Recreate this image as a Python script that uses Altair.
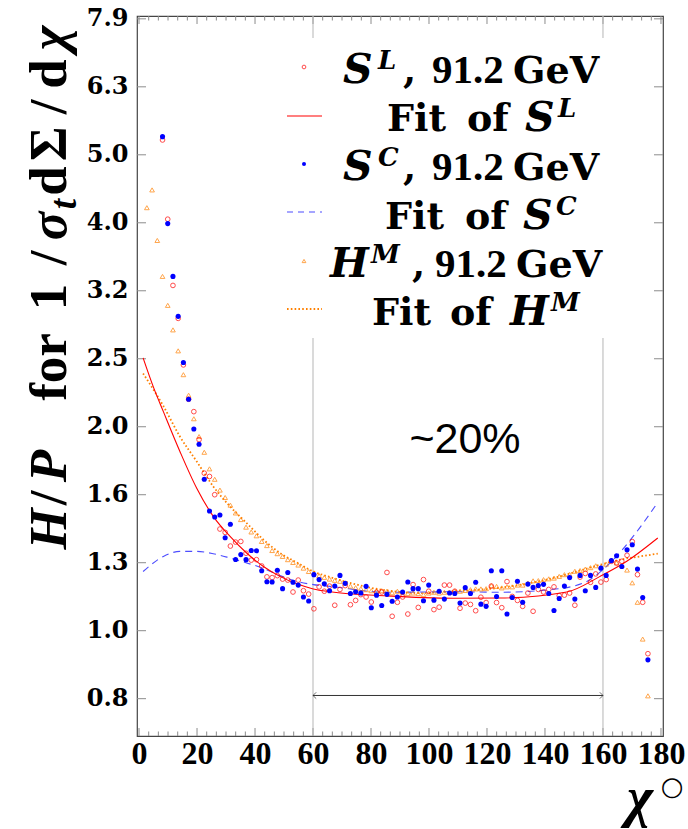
import altair as alt
import pandas as pd

# ---------------- data ----------------
chi_S = [8.1, 9.9, 11.7, 13.5, 15.3, 17.1, 18.9, 20.7, 22.5, 24.3, 26.1, 27.9, 29.7, 31.5, 33.3, 35.1,
         36.9, 38.7, 40.5, 42.3, 44.1, 45.9, 47.7, 49.5, 51.3, 53.1, 54.9, 56.7, 58.5, 60.3, 62.1, 63.9,
         65.7, 67.5, 69.3, 71.1, 72.9, 74.7, 76.5, 78.3, 80.1, 81.9, 83.7, 85.5, 87.3, 89.1, 90.9, 92.7,
         94.5, 96.3, 98.1, 99.9, 101.7, 103.5, 105.3, 107.1, 108.9, 110.7, 112.5, 114.3, 116.1, 117.9,
         119.7, 121.5, 123.3, 125.1, 126.9, 128.7, 130.5, 132.3, 134.1, 135.9, 137.7, 139.5, 141.3,
         143.1, 144.9, 146.7, 148.5, 150.3, 152.1, 153.9, 155.7, 157.5, 159.3, 161.1, 162.9, 164.7,
         166.5, 168.3, 170.1, 171.9, 173.7, 175.5]
chi_H = [2.7, 4.5, 6.3] + chi_S

SL = [5.27, 4.03, 3.22, 2.88, 2.46, 2.19, 2.10, 1.91, 1.705, 1.686, 1.585, 1.411, 1.395, 1.332, 1.35, 1.353,
      1.30, 1.27, 1.272, 1.245, 1.20, 1.197, 1.205, 1.191, 1.187, 1.14, 1.187, 1.145, 1.132, 1.077, 1.16, 1.143,
      1.163, 1.090, 1.15, 1.165, 1.092, 1.108, 1.13, 1.121, 1.102, 1.139, 1.14, 1.218, 1.050, 1.101, 1.121, 1.058,
      1.169, 1.082, 1.189, 1.143, 1.074, 1.083, 1.167, 1.167, 1.143, 1.079, 1.098, 1.093, 1.070, 1.12,
      1.100, 1.163, 1.100, 1.081, 1.181, 1.123, 1.108, 1.086, 1.136, 1.068, 1.15, 1.14, 1.15,
      1.16, 1.126, 1.128, 1.136, 1.09, 1.199, 1.214, 1.178, 1.212, 1.179, 1.189, 1.265, 1.258,
      1.265, 1.291, 1.352, 1.209, 1.101, 0.925]
SC = [5.33, 3.97, 3.32, 2.90, 2.48, 2.19, 1.98, 1.88, 1.67, 1.50, 1.47, 1.48, 1.37, 1.434, 1.273, 1.294,
      1.272, 1.312, 1.311, 1.225, 1.18, 1.179, 1.227, 1.153, 1.218, 1.178, 1.167, 1.121, 1.106, 1.209, 1.189, 1.172,
      1.145, 1.163, 1.206, 1.174, 1.134, 1.141, 1.136, 1.162, 1.081, 1.128, 1.089, 1.131, 1.105, 1.121, 1.140, 1.179,
      1.153, 1.153, 1.107, 1.167, 1.109, 1.143, 1.113, 1.136, 1.134, 1.098, 1.157, 1.134, 1.178, 1.094,
      1.086, 1.225, 1.123, 1.225, 1.058, 1.119, 1.182, 1.101, 1.171, 1.158, 1.165, 1.170, 1.134,
      1.071, 1.115, 1.163, 1.197, 1.113, 1.206, 1.145, 1.206, 1.158, 1.236, 1.206, 1.268, 1.289,
      1.243, 1.315, 1.338, 1.232, 1.119, 0.906]
HM = [4.19, 4.45, 3.75, 3.32, 3.01, 2.77, 2.58, 2.38, 2.22, 2.05, 1.93, 1.83, 1.73, 1.67, 1.61, 1.57, 1.53,
      1.49, 1.457, 1.42, 1.397, 1.379, 1.353, 1.334, 1.312, 1.298, 1.286, 1.272, 1.26, 1.249, 1.236, 1.222,
      1.216, 1.205, 1.198, 1.191, 1.186, 1.182, 1.175, 1.163, 1.157, 1.153, 1.149, 1.145, 1.144, 1.145, 1.143,
      1.137, 1.143, 1.139, 1.134, 1.136, 1.134, 1.130, 1.136, 1.139, 1.136, 1.139, 1.139, 1.144, 1.143,
      1.146, 1.149, 1.152, 1.152, 1.153, 1.165, 1.162, 1.156, 1.16, 1.16, 1.167, 1.167, 1.175, 1.184,
      1.185, 1.189, 1.192, 1.195, 1.202, 1.209, 1.21, 1.223, 1.226, 1.232, 1.238, 1.246, 1.24, 1.253,
      1.269, 1.258, 1.247, 1.228, 1.176, 1.101, 0.972, 0.802]

fitSL_x = [1.4, 5.0, 8.4, 14.1, 19.9, 25.6, 31.4, 37.1, 42.9, 48.6, 54.4, 60.1, 65.9, 85.4, 108.4, 124.5,
           147.5, 159.0, 168.2, 178.9]
fitSL_y = [2.52, 2.28, 2.10, 1.835, 1.62, 1.473, 1.376, 1.301, 1.243, 1.202, 1.172, 1.152, 1.141, 1.125,
           1.116, 1.117, 1.14, 1.202, 1.265, 1.369]
fitSC_x = [1.4, 8.4, 14.1, 19.9, 25.6, 31.4, 37.1, 42.9, 48.6, 54.4, 60.1, 65.9, 85.4, 108.4, 124.5, 141.7,
           153.2, 162.4, 170.4, 178.7]
fitSC_y = [1.222, 1.286, 1.308, 1.308, 1.298, 1.279, 1.258, 1.235, 1.205, 1.182, 1.169, 1.162, 1.139, 1.141,
           1.139, 1.149, 1.175, 1.257, 1.376, 1.54]
fitHM_x = [1.4, 8.4, 14.1, 19.9, 25.6, 31.4, 37.1, 42.9, 48.6, 54.4, 60.1, 65.9, 85.4, 97.0, 108.4, 125.6,
           141.7, 159.0, 165.9, 172.8, 178.9]
fitHM_y = [2.39, 2.14, 1.93, 1.774, 1.63, 1.523, 1.44, 1.361, 1.301, 1.26, 1.222, 1.199, 1.146, 1.136, 1.143,
           1.158, 1.192, 1.25, 1.272, 1.286, 1.298]

x_ticks = [0, 20, 40, 60, 80, 100, 120, 140, 160, 180]
y_ticks = [0.7943, 1.0, 1.2589, 1.5849, 1.9953, 2.5119, 3.1623, 3.9811, 5.0119, 6.3096, 7.9433]
band_edges = [60, 160]
arrow_y = 0.803

# ---------------- layout ----------------
XMIN, XMAX = -0.7, 180.7
YMIN, YMAX = 0.70, 8.02
W, H = 526, 720
PADL, PADT, PADR, PADB = 137, 16, 25, 93

RED, BLUE, ORANGE = "#ff0000", "#0000ff", "#ff8000"

xs = alt.Scale(domain=[XMIN, XMAX], nice=False, zero=False)
ys = alt.Scale(type="log", domain=[YMIN, YMAX], nice=False)
X = lambda f: alt.X(f, type="quantitative", scale=xs)
Y = lambda f: alt.Y(f, type="quantitative", scale=ys)
X2 = lambda f: alt.X2(f)
Y2 = lambda f: alt.Y2(f)

dummy = pd.DataFrame({"a": [0]})

df_SL = pd.DataFrame({"chi": chi_S, "v": SL})
df_SC = pd.DataFrame({"chi": chi_S, "v": SC})
df_HM = pd.DataFrame({"chi": chi_H, "v": HM})

layers = []

# axis carrier (labels only) - first layer so its axis definitions are used
axis_layer = alt.Chart(pd.DataFrame({"x": [XMIN], "y": [1.0]})).mark_point(opacity=0).encode(
    x=alt.X("x:Q", scale=xs, axis=alt.Axis(values=x_ticks, title=None, ticks=False, tickSize=0, domain=False,
                                            grid=False, labelFont="Liberation Serif", labelFontWeight="bold",
                                            labelFontSize=32, labelPadding=2, labelColor="black",
                                            labelFlush=False, labelOverlap=False)),
    y=alt.Y("y:Q", scale=ys, axis=alt.Axis(values=y_ticks, format=".1f", title=None, ticks=False, tickSize=0,
                                            domain=False, grid=False, labelFont="DejaVu Serif",
                                            labelFontWeight="bold", labelFontSize=24, labelPadding=9,
                                            labelColor="black", labelFlush=False, labelOverlap=False)))
layers.append(axis_layer)

# inward ticks (drawn through the scales)
tick_units_x = 9 / (W / (XMAX - XMIN))
tk = []
for t in y_ticks:
    tk.append({"x": XMIN, "x2": XMIN + tick_units_x, "y": t, "y2": t})
    tk.append({"x": XMAX - tick_units_x, "x2": XMAX, "y": t, "y2": t})
fac_major = 10 ** (8 / (H / (0.9042 + 0.1549)))
fac_minor = 10 ** (4.5 / (H / (0.9042 + 0.1549)))
for t in x_ticks:
    tk.append({"x": t, "x2": t, "y": YMIN, "y2": YMIN * fac_major})
    tk.append({"x": t, "x2": t, "y": YMAX / fac_major, "y2": YMAX})
for i in range(55):
    t = i * 20 / 6
    if i % 6 != 0:
        tk.append({"x": t, "x2": t, "y": YMIN, "y2": YMIN * fac_minor})
        tk.append({"x": t, "x2": t, "y": YMAX / fac_minor, "y2": YMAX})
layers.append(alt.Chart(pd.DataFrame(tk)).mark_rule(color="#8c8c8c", strokeWidth=1).encode(
    x=X("x"), x2=X2("x2"), y=Y("y"), y2=Y2("y2")))

# gray band lines
layers.append(alt.Chart(pd.DataFrame({"x": band_edges, "y": [YMIN] * 2, "y2": [YMAX] * 2})).mark_rule(
    color="#b5b5b5", strokeWidth=1).encode(x=X("x"), y=Y("y"), y2=Y2("y2")))

# fits
for fx, fy, col, dash, sw in [(fitHM_x, fitHM_y, ORANGE, [1.6, 2.2], 1.8),
                              (fitSC_x, fitSC_y, "#4d4dff", [7, 5], 1.1),
                              (fitSL_x, fitSL_y, RED, None, 1.1)]:
    kw = dict(color=col, strokeWidth=sw, interpolate="monotone")
    if dash:
        kw["strokeDash"] = dash
    layers.append(alt.Chart(pd.DataFrame({"x": fx, "y": fy})).mark_line(**kw).encode(x=X("x"), y=Y("y")))

# data points
layers.append(alt.Chart(df_HM).mark_point(shape="triangle-up", filled=False, color=ORANGE, size=22,
                                          strokeWidth=1).encode(x=X("chi"), y=Y("v")))
layers.append(alt.Chart(df_SL).mark_point(shape="circle", filled=False, color=RED, size=22,
                                          strokeWidth=1).encode(x=X("chi"), y=Y("v")))
layers.append(alt.Chart(df_SC).mark_point(shape="circle", filled=True, color=BLUE, size=26,
                                          opacity=1, strokeWidth=0).encode(x=X("chi"), y=Y("v")))

# arrow
layers.append(alt.Chart(pd.DataFrame({"x": [band_edges[0]], "x2": [band_edges[1]], "y": [arrow_y]})).mark_rule(
    color="#333333", strokeWidth=1).encode(x=X("x"), x2=X2("x2"), y=Y("y")))
layers.append(alt.Chart(pd.DataFrame({"x": [band_edges[0]], "y": [arrow_y]})).mark_point(
    shape="M1,-1L0,0L1,1", filled=False, color="#333333", size=40, strokeWidth=1).encode(x=X("x"), y=Y("y")))
layers.append(alt.Chart(pd.DataFrame({"x": [band_edges[1]], "y": [arrow_y]})).mark_point(
    shape="M-1,-1L0,0L-1,1", filled=False, color="#333333", size=40, strokeWidth=1).encode(x=X("x"), y=Y("y")))


def px(v):
    return alt.value(v - PADL)


def py(v):
    return alt.value(v - PADT)


# legend box
layers.append(alt.Chart(dummy).mark_rect(color="white", opacity=1).encode(
    x=px(288), x2=px(652), y=py(38), y2=py(338)))

# legend symbols
layers.append(alt.Chart(dummy).mark_point(shape="circle", filled=False, color=RED, size=14, strokeWidth=1)
              .encode(x=px(304), y=py(67)))
layers.append(alt.Chart(dummy).mark_rule(color=RED, strokeWidth=1.1).encode(x=px(287), x2=px(322), y=py(116)))
layers.append(alt.Chart(dummy).mark_point(shape="circle", filled=True, color=BLUE, size=16, opacity=1,
                                          strokeWidth=0).encode(x=px(304), y=py(164)))
layers.append(alt.Chart(dummy).mark_rule(color="#4d4dff", strokeWidth=1.1, strokeDash=[6, 5]).encode(
    x=px(287), x2=px(322), y=py(212)))
layers.append(alt.Chart(dummy).mark_point(shape="triangle-up", filled=False, color=ORANGE, size=14,
                                          strokeWidth=1).encode(x=px(304), y=py(261)))
layers.append(alt.Chart(dummy).mark_rule(color=ORANGE, strokeWidth=1.8, strokeDash=[1.6, 2.2]).encode(
    x=px(287), x2=px(322), y=py(309)))


def txt(s, x, y, size, font="DejaVu Serif", weight="bold", style="normal", align="left",
        baseline="alphabetic", angle=0, color="black"):
    return alt.Chart(dummy).mark_text(text=s, font=font, fontSize=size, fontWeight=weight, fontStyle=style,
                                      align=align, baseline=baseline, angle=angle, color=color).encode(
        x=px(x), y=py(y))


LS = "Liberation Serif"
DS = "DejaVu Serif"
# legend texts
rows = [
    (83, [("S", 343, "italic"), ("sup", "L", 378), (",", 403, "normal"), ("91.2", 432, "num"), ("GeV", 513, "normal")]),
    (131, [("Fit", 387, "normal"), ("of", 467, "normal"), ("S", 525, "italic"), ("sup", "L", 558)]),
    (180, [("S", 343, "italic"), ("sup", "C", 378), (",", 403, "normal"), ("91.2", 432, "num"), ("GeV", 513, "normal")]),
    (229, [("Fit", 385, "normal"), ("of", 465, "normal"), ("S", 523, "italic"), ("sup", "C", 556)]),
    (277, [("H", 330, "italic"), ("sup", "M", 371), (",", 412, "normal"), ("91.2", 435, "num"), ("GeV", 516, "normal")]),
    (325, [("Fit", 372, "normal"), ("of", 450, "normal"), ("H", 510, "italic"), ("sup", "M", 551)]),
]
for base, items in rows:
    for it in items:
        if it[0] == "sup":
            layers.append(txt(it[1], it[2], base - 14, 26, font=DS, style="italic"))
        elif it[2] == "num":
            layers.append(txt(it[0], it[1], base, 41, font=LS))
        elif it[2] == "italic":
            layers.append(txt(it[0], it[1], base, 41, font=DS, style="italic"))
        else:
            layers.append(txt(it[0], it[1], base, 38, font=DS))

# y-axis title pieces (rotated)
ytitle = [("H", 529, "italic"), ("/", 498, "normal"), ("P", 466, "italic"), ("for", 367, "normal"),
          ("1", 297, "normal"), ("/", 258, "normal"), ("σ", 226, "italic"), ("d", 181, "normal"),
          ("Σ", 144, "normal"), ("/", 107, "normal"), ("d", 74, "normal"), ("χ", 38, "italic")]
for s, yy, st in ytitle:
    layers.append(txt(s, 66, yy, 53, font=LS, style=st, align="center", angle=270))
layers.append(txt("t", 76, 204, 37, font=LS, style="italic", align="center", angle=270))

# x-axis title
layers.append(txt("χ", 640, 816, 56, font=LS, style="italic", align="center"))
layers.append(txt("○", 672, 787, 26, font="DejaVu Sans", weight="normal", align="center", baseline="middle"))

# annotation
layers.append(txt("~20%", 465, 453, 43, font="Liberation Sans", weight="normal", align="center"))

chart = alt.layer(*layers).properties(
    width=W, height=H,
    padding={"left": PADL, "top": PADT, "right": PADR, "bottom": PADB},
    autosize=alt.AutoSizeParams(type="none"),
    background="white",
).configure_view(stroke="#444444", strokeWidth=1.2)

chart.save("out.html", embed_options={"renderer": "svg", "actions": False})
